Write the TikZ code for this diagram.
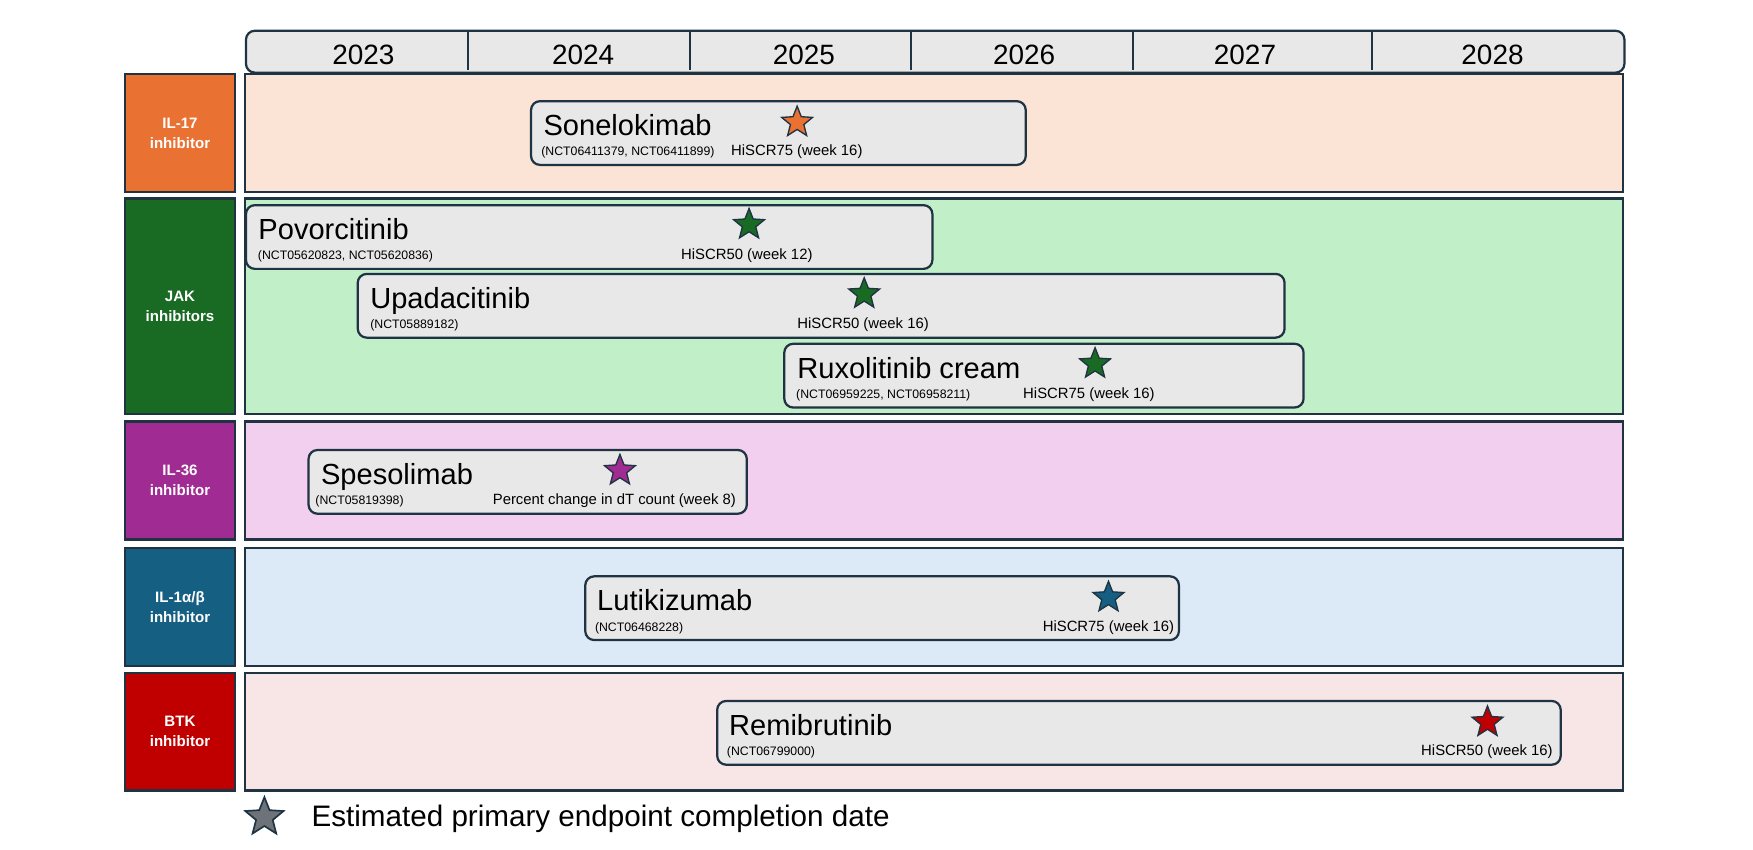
\documentclass[tikz,border=0pt]{standalone}
\usepackage{fontspec}
\setmainfont{Liberation Sans}
\usetikzlibrary{shapes.geometric}
\definecolor{edge}{HTML}{1F3342}
\definecolor{barfill}{HTML}{E8E8E8}
\definecolor{cA}{HTML}{E97132}\definecolor{pA}{HTML}{FBE3D6}
\definecolor{cB}{HTML}{196B24}\definecolor{pB}{HTML}{C1F0C8}
\definecolor{cC}{HTML}{A02B93}\definecolor{pC}{HTML}{F2CFEE}
\definecolor{cD}{HTML}{156082}\definecolor{pD}{HTML}{DCEAF7}
\definecolor{cE}{HTML}{C00000}\definecolor{pE}{HTML}{F8E5E6}
\definecolor{legstar}{HTML}{6D7378}
\begin{document}
\begin{tikzpicture}[x=1pt,y=-1pt,
  hdr/.style={draw=edge,line width=2pt,fill=barfill,rounded corners=8pt,anchor=north west,inner sep=0pt},
  divline/.style={draw=edge,line width=1.5pt},
  year/.style={font=\fontsize{25}{28}\selectfont,inner sep=0pt},
  lab/.style={draw=edge,line width=2pt,text=white,align=center,minimum width=98pt,inner sep=0pt,
    font=\fontsize{13.5}{18}\selectfont\bfseries},
  panel/.style={draw=edge,line width=2pt,minimum width=1233pt,inner sep=0pt},
  bar/.style={draw=edge,line width=2pt,fill=barfill,rounded corners=8pt,anchor=north west,minimum height=57pt,inner sep=0pt},
  dname/.style={anchor=base west,inner sep=0pt,font=\fontsize{26}{30}\selectfont},
  nct/.style={anchor=base west,inner sep=0pt,font=\fontsize{11}{13}\selectfont},
  endp/.style={anchor=base,inner sep=0pt,font=\fontsize{13.3}{15}\selectfont},
  endstar/.style={star,star points=5,star point ratio=2.3,minimum size=29pt,inner sep=0pt,draw=edge,line width=1.2pt},
]
\useasboundingbox (0,0) rectangle (1568,760);
\fill[white] (0,0) rectangle (1568,760);

% header
\node[hdr,minimum width=1233pt,minimum height=37.5pt] (header) at (219,26.5) {};
\foreach \xx in {418.8,617,815,1013.6,1227}{\draw[divline] (\xx,27.5) -- (\xx,63);}
\node[year] (y2023) at (325,49) {2023};
\node[year] (y2024) at (521.6,49) {2024};
\node[year] (y2025) at (719,49) {2025};
\node[year] (y2026) at (916,49) {2026};
\node[year] (y2027) at (1113.6,49) {2027};
\node[year] (y2028) at (1335,49) {2028};

% panels
\node[panel,fill=pA,minimum height=105pt] (rowA) at (835.5,119) {};
\node[panel,fill=pB,minimum height=192.5pt] (rowB) at (835.5,273.75) {};
\node[panel,fill=pC,minimum height=105.5pt] (rowC) at (835.5,429.75) {};
\node[panel,fill=pD,minimum height=105.5pt] (rowD) at (835.5,542.75) {};
\node[panel,fill=pE,minimum height=105pt] (rowE) at (835.5,654.5) {};

% labels
\node[lab,fill=cA,minimum height=105pt] (labA) at (161,119) {IL-17\\inhibitor};
\node[lab,fill=cB,minimum height=192.5pt] (labB) at (161,273.75) {JAK\\inhibitors};
\node[lab,fill=cC,minimum height=105.5pt] (labC) at (161,429.75) {IL-36\\inhibitor};
\node[lab,fill=cD,minimum height=105.5pt] (labD) at (161,542.75) {IL-1α/β\\inhibitor};
\node[lab,fill=cE,minimum height=105pt] (labE) at (161,654.5) {BTK\\inhibitor};

% Sonelokimab
\node[bar,minimum width=442.5pt] (son) at (474,89.5) {};
\node[dname] (son-name) at (486,121.5) {Sonelokimab};
\node[nct] (son-nct) at (484,139.5) {(NCT06411379, NCT06411899)};
\node[endstar,fill=cA] (son-star) at (713,109.5) {};
\node[endp] (son-end) at (712.7,139.5) {HiSCR75 (week 16)};

% Povorcitinib
\node[bar,minimum width=614pt] (pov) at (219,182.5) {};
\node[dname] (pov-name) at (231,214.5) {Povorcitinib};
\node[nct] (pov-nct) at (230.5,232.5) {(NCT05620823, NCT05620836)};
\node[endstar,fill=cB] (pov-star) at (670,201) {};
\node[endp] (pov-end) at (668,232.5) {HiSCR50 (week 12)};

% Upadacitinib
\node[bar,minimum width=829pt] (upa) at (319,244) {};
\node[dname] (upa-name) at (331,276) {Upadacitinib};
\node[nct] (upa-nct) at (331,294) {(NCT05889182)};
\node[endstar,fill=cB] (upa-star) at (773,263) {};
\node[endp] (upa-end) at (772,294) {HiSCR50 (week 16)};

% Ruxolitinib cream
\node[bar,minimum width=464.5pt] (rux) at (700.5,306.5) {};
\node[dname] (rux-name) at (713,338.5) {Ruxolitinib cream};
\node[nct] (rux-nct) at (712,356.5) {(NCT06959225, NCT06958211)};
\node[endstar,fill=cB] (rux-star) at (979.5,325.5) {};
\node[endp] (rux-end) at (974,356.5) {HiSCR75 (week 16)};

% Spesolimab
\node[bar,minimum width=392pt] (spe) at (275,401.5) {};
\node[dname] (spe-name) at (287,433.5) {Spesolimab};
\node[nct] (spe-nct) at (282,451.5) {(NCT05819398)};
\node[endstar,fill=cC] (spe-star) at (554.5,421) {};
\node[endp] (spe-end) at (549.5,451.5) {Percent change in dT count (week 8)};

% Lutikizumab
\node[bar,minimum width=531pt] (lut) at (522.5,514.5) {};
\node[dname] (lut-name) at (534,546.5) {Lutikizumab};
\node[nct] (lut-nct) at (532,564.5) {(NCT06468228)};
\node[endstar,fill=cD] (lut-star) at (991.5,534.5) {};
\node[endp] (lut-end) at (991.5,564.5) {HiSCR75 (week 16)};

% Remibrutinib
\node[bar,minimum width=754.5pt] (rem) at (640.5,626) {};
\node[dname] (rem-name) at (652,658) {Remibrutinib};
\node[nct] (rem-nct) at (650,676) {(NCT06799000)};
\node[endstar,fill=cE] (rem-star) at (1330.5,646) {};
\node[endp] (rem-end) at (1330,676) {HiSCR50 (week 16)};

% legend
\node[endstar,fill=legstar,minimum size=36pt,line width=1.5pt] (legend-star) at (236.5,731) {};
\node[anchor=base west,inner sep=0pt,font=\fontsize{26.5}{30}\selectfont] (legend-text) at (278.5,739.5) {Estimated primary endpoint completion date};
\end{tikzpicture}
\end{document}
